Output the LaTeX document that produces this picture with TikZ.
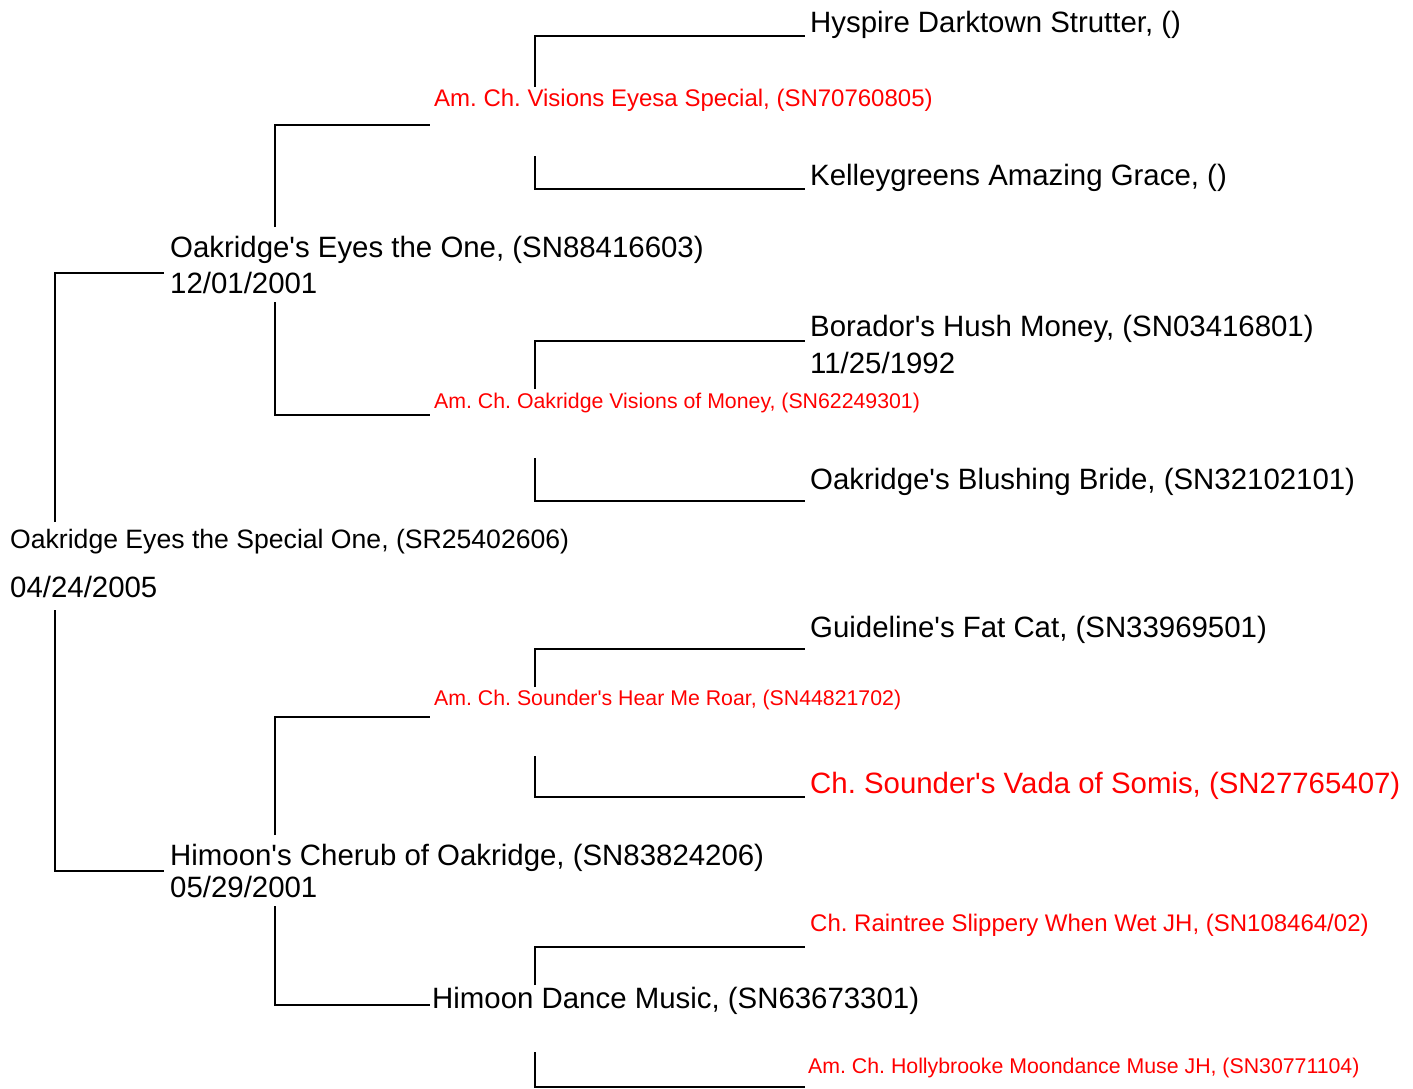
\documentclass[tikz,border=0pt]{standalone}
\usepackage{fontspec}
\setmainfont{Liberation Sans}[Ligatures=TeXOff]
\frenchspacing
\begin{document}
\begin{tikzpicture}[x=1pt,y=-1pt,
    dog/.style={anchor=base west,inner sep=0pt,font=\fontsize{29.4}{35}\selectfont},
    rootdog/.style={dog,font=\fontsize{26.6}{32}\selectfont},
    champ/.style={dog,text=red,font=\fontsize{24}{29}\selectfont},
    smallchamp/.style={dog,text=red,font=\fontsize{21.3}{26}\selectfont},
    bigchamp/.style={dog,text=red},
    link/.style={line width=2.4pt}]
  \useasboundingbox (0,0) rectangle (1413,1089);
  \node[rootdog] (root) at (10,548) {Oakridge Eyes the Special One, (SR25402606)};
  \node[dog] (rootdob) at (10,597) {04/24/2005};
  \node[dog] (s) at (170,257) {Oakridge's Eyes the One, (SN88416603)};
  \node[dog] (sdob) at (170,293) {12/01/2001};
  \node[dog] (d) at (170,865) {Himoon's Cherub of Oakridge, (SN83824206)};
  \node[dog] (ddob) at (170,897) {05/29/2001};
  \node[champ] (ss) at (434,107) {Am. Ch. Visions Eyesa Special, (SN70760805)};
  \node[smallchamp] (sd) at (434,408) {Am. Ch. Oakridge Visions of Money, (SN62249301)};
  \node[smallchamp] (ds) at (434,705) {Am. Ch. Sounder's Hear Me Roar, (SN44821702)};
  \node[dog] (dd) at (432,1008) {Himoon Dance Music, (SN63673301)};
  \node[dog] (sss) at (810,33) {Hyspire Darktown Strutter, ()};
  \node[dog] (ssd) at (810,185) {Kelleygreens Amazing Grace, ()};
  \node[dog] (sds) at (810,336) {Borador's Hush Money, (SN03416801)};
  \node[dog] (sdsdob) at (810,373) {11/25/1992};
  \node[dog] (sdd) at (810,489) {Oakridge's Blushing Bride, (SN32102101)};
  \node[dog] (dss) at (810,637) {Guideline's Fat Cat, (SN33969501)};
  \node[bigchamp] (dsd) at (810,793) {Ch. Sounder's Vada of Somis, (SN27765407)};
  \node[champ] (dds) at (810,931) {Ch. Raintree Slippery When Wet JH, (SN108464/02)};
  \node[smallchamp] (ddd) at (808,1073) {Am. Ch. Hollybrooke Moondance Muse JH, (SN30771104)};
  \begin{scope}[link]
    \draw ([shift={(45,-26)}]root.base west) |- ([shift={(-6,16)}]s.base west);
    \draw ([shift={(45,13)}]rootdob.base west) |- ([shift={(-6,6)}]d.base west);
    \draw ([shift={(105,-30)}]s.base west) |- ([shift={(-4,18)}]ss.base west);
    \draw ([shift={(105,9)}]sdob.base west) |- ([shift={(-4,7)}]sd.base west);
    \draw ([shift={(101,-20)}]ss.base west) |- ([shift={(-5,3)}]sss.base west);
    \draw ([shift={(101,49)}]ss.base west) |- ([shift={(-5,4)}]ssd.base west);
    \draw ([shift={(101,-19)}]sd.base west) |- ([shift={(-5,5)}]sds.base west);
    \draw ([shift={(101,50)}]sd.base west) |- ([shift={(-5,12)}]sdd.base west);
    \draw ([shift={(105,-30)}]d.base west) |- ([shift={(-4,12)}]ds.base west);
    \draw ([shift={(105,9)}]ddob.base west) |- ([shift={(-2,-3)}]dd.base west);
    \draw ([shift={(101,-18)}]ds.base west) |- ([shift={(-5,12)}]dss.base west);
    \draw ([shift={(101,51)}]ds.base west) |- ([shift={(-5,4)}]dsd.base west);
    \draw ([shift={(103,-23)}]dd.base west) |- ([shift={(-5,16)}]dds.base west);
    \draw ([shift={(103,44)}]dd.base west) |- ([shift={(-3,14)}]ddd.base west);
  \end{scope}
\end{tikzpicture}
\end{document}
